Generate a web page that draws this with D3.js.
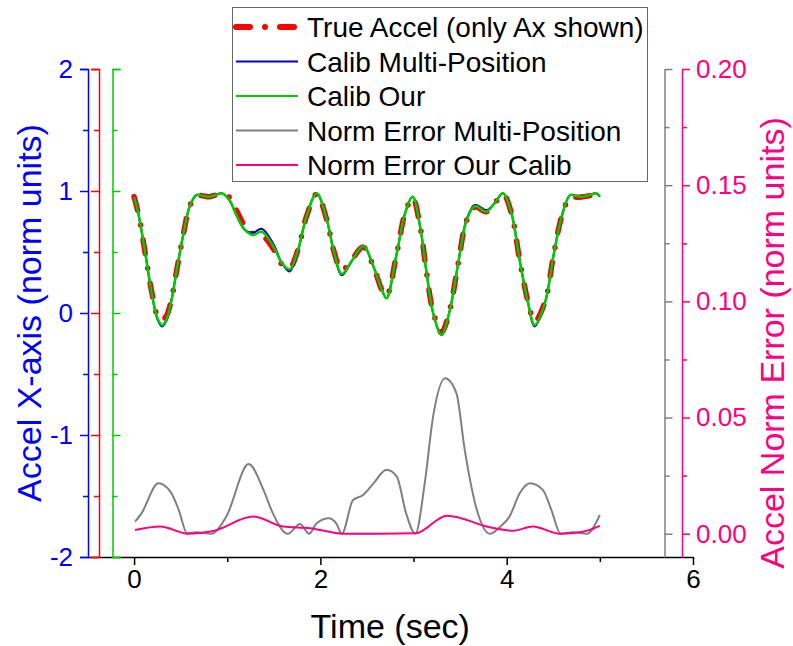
<!DOCTYPE html>
<html>
<head>
<meta charset="utf-8">
<script src="https://cdn.jsdelivr.net/npm/d3@7"></script>
<style>
  body { margin: 0; background: #fff; }
  svg text { font-family: "Liberation Sans", Arial, sans-serif; }
</style>
</head>
<body>
<div id="chartDiv"></div>
<script>
// time samples for the acceleration curves (sec)
var accelTime = [0, 0.05, 0.12, 0.19, 0.25, 0.30, 0.35, 0.40, 0.46, 0.53, 0.60, 0.67, 0.74, 0.80, 0.87, 0.94,
  1.02, 1.10, 1.19, 1.28, 1.37, 1.50, 1.585, 1.67, 1.76, 1.85, 1.96, 2.07, 2.14, 2.23, 2.34, 2.46, 2.57, 2.66,
  2.71, 2.82, 2.91, 2.99, 3.07, 3.14, 3.21, 3.30, 3.39, 3.48, 3.57, 3.66, 3.78, 3.87, 3.96, 4.05, 4.14, 4.23,
  4.30, 4.41, 4.50, 4.59, 4.68, 4.74, 4.80, 4.88, 4.96, 5.0];

// True Accel (Ax)
var accelTrue = [0.953, 0.80, 0.49, 0.17, -0.02, -0.06, -0.02, 0.11, 0.36, 0.65, 0.88, 0.96, 0.96, 0.953, 0.965, 0.975,
  0.95, 0.84, 0.71, 0.65, 0.64, 0.52, 0.40, 0.37, 0.52, 0.79, 0.975, 0.76, 0.52, 0.35, 0.44, 0.54, 0.38, 0.19,
  0.14, 0.49, 0.82, 0.945, 0.71, 0.33, 0.01, -0.16, 0.03, 0.41, 0.76, 0.87, 0.83, 0.90, 0.975, 0.82, 0.43, 0.09,
  -0.07, 0.09, 0.46, 0.79, 0.95, 0.95, 0.95, 0.96, 0.975, 0.953];

// Calib Multi-Position
var accelMulti = [0.953, 0.80, 0.49, 0.16, -0.05, -0.11, -0.06, 0.10, 0.36, 0.65, 0.88, 0.967, 0.96, 0.953, 0.965, 0.981,
  0.93, 0.80, 0.68, 0.66, 0.69, 0.56, 0.41, 0.34, 0.51, 0.79, 0.981, 0.76, 0.52, 0.31, 0.43, 0.55, 0.38, 0.19,
  0.12, 0.49, 0.82, 0.953, 0.71, 0.33, 0.0, -0.18, 0.025, 0.41, 0.77, 0.885, 0.84, 0.90, 0.981, 0.82, 0.43, 0.08,
  -0.11, 0.08, 0.46, 0.79, 0.967, 0.96, 0.953, 0.965, 0.981, 0.953];

// Calib Our
var accelOur = [0.953, 0.80, 0.49, 0.16, -0.04, -0.10, -0.05, 0.10, 0.36, 0.65, 0.88, 0.967, 0.96, 0.953, 0.965, 0.981,
  0.93, 0.80, 0.68, 0.64, 0.666, 0.54, 0.41, 0.358, 0.52, 0.79, 0.981, 0.76, 0.52, 0.32, 0.43, 0.55, 0.38, 0.19,
  0.12, 0.49, 0.82, 0.953, 0.71, 0.33, 0.0, -0.18, 0.025, 0.41, 0.76, 0.877, 0.83, 0.90, 0.981, 0.82, 0.43, 0.08,
  -0.10, 0.08, 0.46, 0.79, 0.967, 0.96, 0.953, 0.965, 0.981, 0.953];

// Norm Error Multi-Position
var errMultiTime = [0.01, 0.08, 0.26, 0.39, 0.48, 0.57, 0.67, 0.83, 0.99, 1.23, 1.39, 1.49, 1.65, 1.78, 1.88, 1.96,
  2.09, 2.17, 2.23, 2.35, 2.46, 2.57, 2.71, 2.82, 2.92, 3.02, 3.12, 3.21, 3.34, 3.46, 3.55, 3.68, 3.82, 3.93,
  4.03, 4.14, 4.25, 4.39, 4.48, 4.58, 4.71, 4.86, 5.0];
var errMulti = [0.0052, 0.0088, 0.0217, 0.0181, 0.0102, 0.0002, 0.0006, 0.0, 0.0074, 0.030, 0.0188, 0.0088, 0.0,
  0.0042, 0.0, 0.0045, 0.0067, 0.0045, 0.0, 0.0145, 0.0167, 0.0217, 0.0275, 0.0246, 0.0088, 0.0, 0.0217, 0.0504,
  0.0669, 0.0605, 0.036, 0.0102, 0.0, 0.003, 0.0074, 0.0174, 0.0217, 0.0188, 0.0102, 0.0, 0.0006, 0.0, 0.0081];

// Norm Error Our Calib
var errOurTime = [0.01, 0.28, 0.58, 0.85, 1.28, 1.60, 1.89, 2.25, 2.64, 3.02, 3.36, 3.82, 4.07, 4.28, 4.57, 4.82, 5.0];
var errOur = [0.0016, 0.0031, 0.0, 0.0012, 0.0074, 0.0031, 0.0024, 0.0, 0.0, 0.0002, 0.0078, 0.0028, 0.0013, 0.0031,
  0.0, 0.0009, 0.0034];

var legendNames = ["True Accel (only Ax shown)", "Calib Multi-Position", "Calib Our", "Norm Error Multi-Position", "Norm Error Our Calib"];
var legendColors = ["#ff0000", "#0000cc", "#00cc00", "#808080", "#ff0080"];

function buildChart() {
  var width = 793, height = 646;
  var top = 69, bottom = 557;

  var svg = d3.select("#chartDiv").append("svg")
    .attr("width", width).attr("height", height);

  var xScale = d3.scaleLinear().domain([-0.5, 6]).range([87.5, 693]);
  var yLeft = d3.scaleLinear().domain([-2, 2]).range([bottom, top]);
  var yRight = d3.scaleLinear().domain([-0.01, 0.2]).range([bottom, top]);

  // plain hyphen for negatives, like the original
  var intFmt = function(d) { return String(d); };

  // little helper to colour an axis group
  function paint(g, color) {
    g.selectAll("path, line").attr("stroke", color).attr("stroke-width", 1.5);
    g.selectAll("text").attr("fill", color).style("font-size", "26px")
      .style("font-family", "'Liberation Sans', Arial, sans-serif");
  }

  // bottom axis
  var xg = svg.append("g").attr("transform", "translate(0," + bottom + ")")
    .call(d3.axisBottom(xScale).tickValues([0, 2, 4, 6]).tickSize(8).tickSizeOuter(0).tickPadding(5)
      .tickFormat(intFmt));
  paint(xg, "#000");
  var xm = svg.append("g").attr("transform", "translate(0," + bottom + ")")
    .call(d3.axisBottom(xScale).tickValues([1, 3, 5]).tickSize(5).tickFormat(""));
  paint(xm, "#000");
  xm.select(".domain").remove();

  // left axes: blue, red, green
  var leftAxes = [
    { x: 88, color: "#0000ff", dir: "left", labels: true },
    { x: 99, color: "#ff0000", dir: "left", labels: false },
    { x: 112.5, color: "#00cc00", dir: "right", labels: false }
  ];
  leftAxes.forEach(function(a) {
    var make = a.dir === "left" ? d3.axisLeft : d3.axisRight;
    var g = svg.append("g").attr("transform", "translate(" + a.x + ",0)")
      .call(make(yLeft).tickValues([-2, -1, 0, 1, 2]).tickSize(8).tickPadding(7)
        .tickFormat(a.labels ? intFmt : ""));
    paint(g, a.color);
    var m = svg.append("g").attr("transform", "translate(" + a.x + ",0)")
      .call(make(yLeft).tickValues([-1.5, -0.5, 0.5, 1.5]).tickSize(5).tickFormat(""));
    paint(m, a.color);
    m.select(".domain").remove();
  });

  // right axes: gray, pink
  var rightAxes = [
    { x: 664.5, color: "#808080", labels: false },
    { x: 682, color: "#ff0080", labels: true }
  ];
  rightAxes.forEach(function(a) {
    var g = svg.append("g").attr("transform", "translate(" + a.x + ",0)")
      .call(d3.axisRight(yRight).tickValues([0, 0.05, 0.1, 0.15, 0.2]).tickSize(8).tickSizeOuter(0).tickPadding(6)
        .tickFormat(a.labels ? d3.format(".2f") : ""));
    paint(g, a.color);
    var m = svg.append("g").attr("transform", "translate(" + a.x + ",0)")
      .call(d3.axisRight(yRight).tickValues([0.025, 0.075, 0.125, 0.175]).tickSize(5).tickFormat(""));
    paint(m, a.color);
    m.select(".domain").remove();
  });

  // axis titles
  svg.append("text").attr("x", (87.5 + 693) / 2).attr("y", 638)
    .attr("text-anchor", "middle").style("font-size", "34px").attr("fill", "#000")
    .text("Time (sec)");
  svg.append("text").attr("transform", "translate(41," + (top + bottom) / 2 + ") rotate(-90)")
    .attr("text-anchor", "middle").style("font-size", "34px").attr("fill", "#0000ff")
    .text("Accel X-axis (norm units)");
  svg.append("text").attr("transform", "translate(784,343) rotate(-90)")
    .attr("text-anchor", "middle").style("font-size", "34px").attr("fill", "#ff0080")
    .text("Accel Norm Error (norm units)");

  // line generators
  var accelLine = d3.line()
    .x(function(d) { return xScale(d[0]); })
    .y(function(d) { return yLeft(d[1]); })
    .curve(d3.curveCatmullRom.alpha(0.5));
  var errLine = d3.line()
    .x(function(d) { return xScale(d[0]); })
    .y(function(d) { return yRight(d[1]); })
    .curve(d3.curveMonotoneX);

  svg.append("path").datum(d3.zip(errMultiTime, errMulti))
    .attr("d", errLine).attr("fill", "none").attr("stroke", "#808080").attr("stroke-width", 2);
  svg.append("path").datum(d3.zip(errOurTime, errOur))
    .attr("d", errLine).attr("fill", "none").attr("stroke", "#ff0080").attr("stroke-width", 2);

  svg.append("path").datum(d3.zip(accelTime, accelTrue))
    .attr("d", accelLine).attr("fill", "none").attr("stroke", "#ff0000").attr("stroke-width", 5.5)
    .attr("stroke-linecap", "round").attr("stroke-dasharray", "14 15 0 15");
  svg.append("path").datum(d3.zip(accelTime, accelMulti))
    .attr("d", accelLine).attr("fill", "none").attr("stroke", "#0000cc").attr("stroke-width", 2);
  svg.append("path").datum(d3.zip(accelTime, accelOur))
    .attr("d", accelLine).attr("fill", "none").attr("stroke", "#00cc00").attr("stroke-width", 2.5);

  // legend
  var lg = svg.append("g");
  lg.append("rect").attr("x", 232.5).attr("y", 7.5).attr("width", 415).attr("height", 174)
    .attr("fill", "#fff").attr("stroke", "#666").attr("stroke-width", 1);
  legendNames.forEach(function(name, i) {
    var cy = 27 + i * 34.5;
    var ln = lg.append("line").attr("x1", 236).attr("x2", 298).attr("y1", cy).attr("y2", cy)
      .attr("stroke", legendColors[i]).attr("stroke-width", i === 0 ? 6 : 2);
    if (i === 0) ln.attr("stroke-linecap", "round").attr("stroke-dasharray", "14 15 0 15");
    lg.append("text").attr("x", 307).attr("y", cy + 10).style("font-size", "28px").attr("fill", "#000")
      .text(name);
  });
}
buildChart();
</script>
</body>
</html>
